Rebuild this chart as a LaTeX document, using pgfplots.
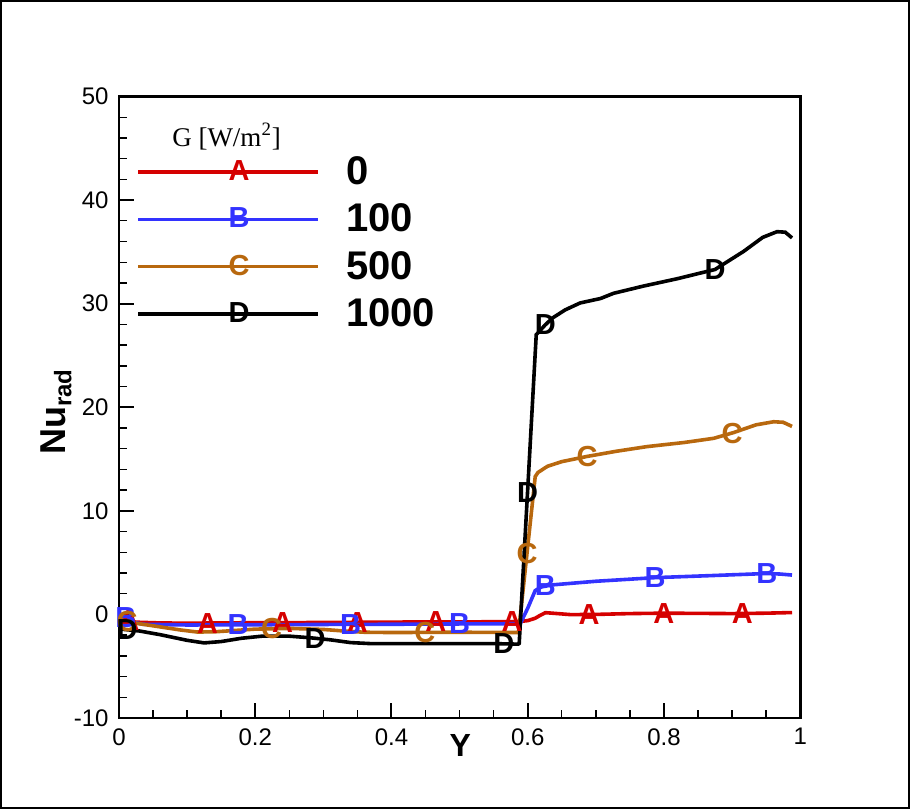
\documentclass[border=0pt]{standalone}
\usepackage{fontspec}
\setmainfont{Liberation Sans}
\newfontfamily\seriffont{Liberation Serif}
\usepackage{pgfplots}
\pgfplotsset{compat=1.18}
\definecolor{cA}{RGB}{213,0,0}
\definecolor{cB}{RGB}{51,51,255}
\definecolor{cC}{RGB}{184,104,14}
\definecolor{cD}{RGB}{0,0,0}
\newcommand{\mkfont}{\fontsize{14.5}{14.5}\selectfont\bfseries}
\begin{document}
\begin{tikzpicture}
\useasboundingbox (-59.5pt,-45.5pt) rectangle (395.5pt,359pt);
\draw[line width=1pt] (-59pt,-45pt) rectangle (395pt,358.5pt);
\begin{axis}[
  scale only axis, width=340.6pt, height=310.75pt,
  xmin=0, xmax=1, ymin=-10, ymax=50,
  xtick={0,0.2,0.4,0.6,0.8,1}, ytick={-10,0,10,20,30,40,50},
  xticklabels={0,0.2,0.4,0.6,0.8,1},
  minor x tick num=3, minor y tick num=4,
  tick align=inside, xtick pos=bottom, ytick pos=left,
  major tick length=7.5pt, minor tick length=4pt,
  every major tick/.style={line width=1pt, black},
  every minor tick/.style={line width=0.7pt, black},
  axis line style={line width=1.3pt},
  tick label style={font=\fontsize{12}{12}\selectfont},
  /pgf/number format/assume math mode=true,
  xticklabel style={inner sep=0pt, anchor=north, yshift=-5pt},
  yticklabel style={inner sep=0pt, anchor=east, xshift=-5pt},
  xlabel={Y},
  xlabel style={at={(axis description cs:0.501,-0.0435)}, anchor=center, font=\fontsize{16}{16}\selectfont\bfseries, inner sep=0pt},
  ylabel={Nu\textsubscript{\fontsize{12}{12}\selectfont rad}},
  ylabel style={at={(axis description cs:-0.092,0.493)}, anchor=center, font=\fontsize{18}{18}\selectfont\bfseries, inner sep=0pt},
  legend style={draw=none, fill=none, inner sep=0pt, at={(axis description cs:0.025,0.9105)}, anchor=north west,
    font=\fontsize{20}{20}\selectfont\bfseries, column sep=11pt, row sep=4.2pt},
  legend cell align=left,
]
% Series A (G=0)
\addplot[cA, line width=1.8pt, forget plot] coordinates {
(0,-0.45)(0.01,-0.6)(0.025,-0.75)(0.06,-0.82)(0.1,-0.85)(0.15,-0.82)(0.2,-0.8)(0.3,-0.78)(0.4,-0.74)(0.5,-0.72)(0.586,-0.7)(0.6,-0.6)(0.611,-0.37)(0.618,-0.1)(0.626,0.17)(0.64,0.1)(0.663,-0.02)(0.7,0.0)(0.75,0.08)(0.8,0.12)(0.85,0.1)(0.9,0.08)(0.95,0.12)(0.988,0.18)};
% Series B (G=100)
\addplot[cB, line width=1.8pt, forget plot] coordinates {
(0,0.0)(0.008,-0.3)(0.02,-0.75)(0.035,-0.95)(0.1,-1.02)(0.2,-1.0)(0.3,-0.97)(0.4,-0.95)(0.5,-0.92)(0.589,-0.9)(0.6,0.6)(0.611,2.3)(0.62,2.65)(0.636,2.85)(0.7,3.2)(0.787,3.55)(0.87,3.75)(0.951,3.95)(0.97,3.9)(0.988,3.8)};
% Series C (G=500)
\addplot[cC, line width=1.8pt, forget plot] coordinates {
(0,-0.3)(0.01,-0.55)(0.02,-0.8)(0.06,-1.2)(0.09,-1.5)(0.115,-1.7)(0.14,-1.68)(0.17,-1.55)(0.2,-1.42)(0.25,-1.35)(0.3,-1.45)(0.33,-1.6)(0.36,-1.72)(0.4,-1.75)(0.5,-1.72)(0.5865,-1.75)(0.611,13.3)(0.615,13.7)(0.629,14.3)(0.65,14.75)(0.687,15.25)(0.73,15.75)(0.775,16.2)(0.83,16.6)(0.873,17.0)(0.902,17.55)(0.935,18.3)(0.961,18.6)(0.975,18.55)(0.988,18.15)};
% Series D (G=1000)
\addplot[cD, line width=1.8pt, forget plot] coordinates {
(0,-1.4)(0.03,-1.6)(0.06,-1.95)(0.1,-2.5)(0.125,-2.75)(0.15,-2.62)(0.18,-2.3)(0.21,-2.1)(0.25,-2.1)(0.28,-2.25)(0.31,-2.45)(0.34,-2.72)(0.37,-2.82)(0.45,-2.82)(0.55,-2.82)(0.586,-2.87)(0.5875,-2.8)(0.6125,27.0)(0.625,27.9)(0.636,28.6)(0.655,29.4)(0.677,30.07)(0.707,30.5)(0.726,31.0)(0.77,31.7)(0.819,32.4)(0.85,32.9)(0.875,33.3)(0.917,35.05)(0.945,36.4)(0.966,36.95)(0.978,36.9)(0.988,36.35)};
% letter marks
\addplot[only marks, forget plot, mark=text, text mark={A}, text mark as node=true, text mark style={font=\mkfont, text=cA, inner sep=0pt}] coordinates {
(0.015,-0.62)(0.13,-0.84)(0.24,-0.79)(0.35,-0.76)(0.465,-0.72)(0.577,-0.7)(0.69,-0.01)(0.80,0.12)(0.915,0.09)};
\addplot[only marks, forget plot, mark=text, text mark={B}, text mark as node=true, text mark style={font=\mkfont, text=cB, inner sep=0pt}] coordinates {
(0.01,-0.3)(0.175,-1.0)(0.34,-0.96)(0.50,-0.92)(0.626,2.8)(0.787,3.55)(0.951,3.95)};
\addplot[only marks, forget plot, mark=text, text mark={C}, text mark as node=true, text mark style={font=\mkfont, text=cC, inner sep=0pt}] coordinates {
(0.012,-0.65)(0.224,-1.38)(0.449,-1.73)(0.599,5.9)(0.687,15.25)(0.9,17.5)};
\addplot[only marks, forget plot, mark=text, text mark={D}, text mark as node=true, text mark style={font=\mkfont, text=cD, inner sep=0pt}] coordinates {
(0.012,-1.5)(0.288,-2.3)(0.565,-2.82)(0.5998,11.8)(0.626,27.95)(0.875,33.3)};
% legend
\addlegendimage{legend image code/.code={\draw[cA,line width=1.8pt] (0pt,0pt) -- (90pt,0pt); \node[font=\mkfont, text=cA, inner sep=0pt] at (45pt,0pt) {A};}}
\addlegendentry{0}
\addlegendimage{legend image code/.code={\draw[cB,line width=1.8pt] (0pt,0pt) -- (90pt,0pt); \node[font=\mkfont, text=cB, inner sep=0pt] at (45pt,0pt) {B};}}
\addlegendentry{100}
\addlegendimage{legend image code/.code={\draw[cC,line width=1.8pt] (0pt,0pt) -- (90pt,0pt); \node[font=\mkfont, text=cC, inner sep=0pt] at (45pt,0pt) {C};}}
\addlegendentry{500}
\addlegendimage{legend image code/.code={\draw[cD,line width=1.8pt] (0pt,0pt) -- (90pt,0pt); \node[font=\mkfont, text=cD, inner sep=0pt] at (45pt,0pt) {D};}}
\addlegendentry{1000}
\node[font=\seriffont\fontsize{13.5}{13.5}\selectfont, anchor=center] at (axis description cs:0.158,0.9356) {G [W/m\textsuperscript{2}]};
\end{axis}
\end{tikzpicture}
\end{document}
